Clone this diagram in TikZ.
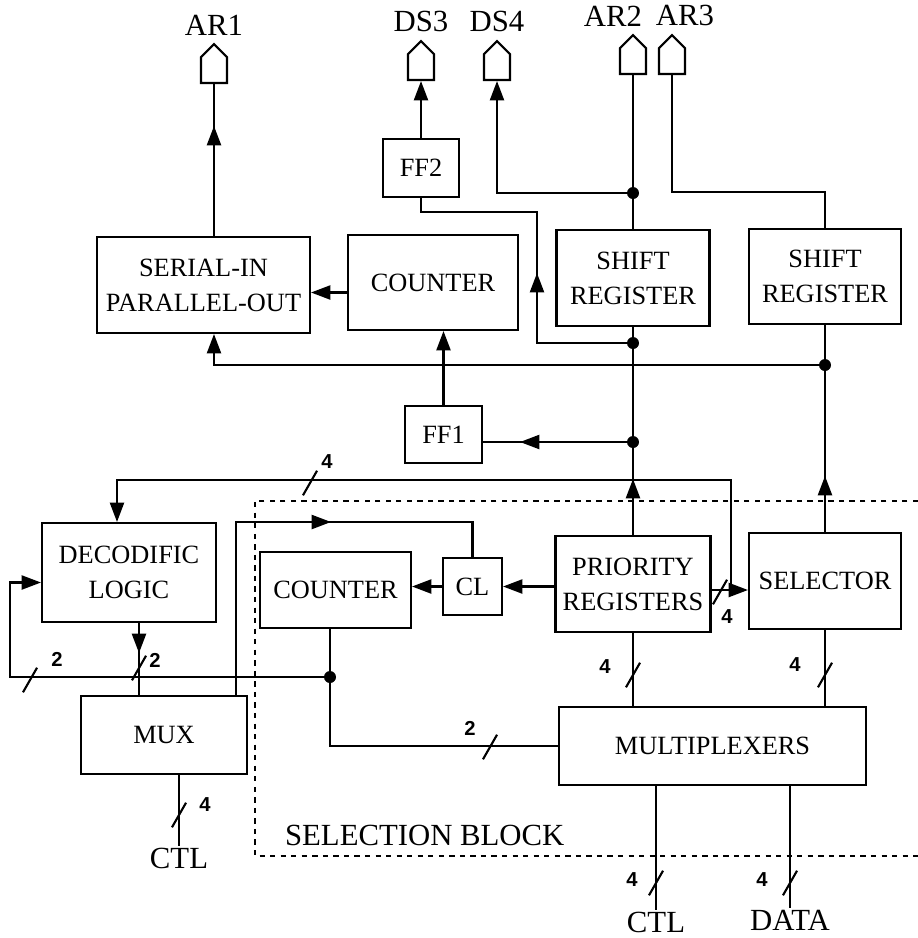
\documentclass[tikz,border=0pt]{standalone}
\usepackage{fontspec}
\setmainfont{Liberation Serif}
\newfontfamily\busfont{Liberation Sans}
\usepackage{tikz}
\usetikzlibrary{arrows.meta,calc,positioning,shapes.arrows,decorations.markings}
\tikzset{
  block/.style={draw, line width=1.2pt, fill=white, align=center, inner sep=2pt, font=\fontsize{15}{20}\selectfont},
  pinout/.style={draw, line width=1.2pt, fill=white, single arrow, single arrow head extend=0pt, single arrow tip angle=90, shape border rotate=90, minimum width=0.52cm, minimum height=0.78cm, inner sep=0pt},
  sig/.style={inner sep=1pt, font=\fontsize{17.5}{20}\selectfont},
  buswidth/.style={inner sep=0pt, font=\busfont\bfseries\fontsize{11.5}{14}\selectfont},
  dot/.style={circle, fill, inner sep=0pt, minimum size=0.24cm},
  wire/.style={line width=1.2pt},
  flow/.style={wire, -{Triangle[length=11pt,width=8pt]}},
  arrowat/.style={wire, postaction={decorate}, decoration={markings, mark=at position #1 with {\arrow{Triangle[length=11pt,width=8pt]}}}},
  blockline/.style={line width=0.9pt, dash pattern=on 3pt off 3pt},
  busmark/.pic={\draw[wire] (-4pt,-7pt) -- (4pt,7pt);}
}

\begin{document}
\begin{tikzpicture}[x=0.02cm,y=-0.02cm]
  \useasboundingbox (0,0) rectangle (918,938);

  % upper blocks
  \node[block, minimum width=4.26cm, minimum height=1.92cm] (sipo) at (203.5,285) {SERIAL-IN\\PARALLEL-OUT};
  \node[block, minimum width=3.4cm, minimum height=1.9cm] (cnt1) at (433,282.5) {COUNTER};
  \node[block, minimum width=1.52cm, minimum height=1.16cm] (ff2) at (421,168) {FF2};
  \node[block, minimum width=3.06cm, minimum height=1.92cm] (sr1) at (633,278) {SHIFT\\REGISTER};
  \node[block, minimum width=3.04cm, minimum height=1.9cm] (sr2) at (825,276.5) {SHIFT\\REGISTER};
  \node[block, minimum width=1.54cm, minimum height=1.14cm] (ff1) at (443.5,434.5) {FF1};

  % lower blocks
  \node[block, minimum width=3.48cm, minimum height=1.98cm] (dec) at (129,572.5) {DECODIFIC\\LOGIC};
  \node[block, minimum width=3.02cm, minimum height=1.52cm] (cnt2) at (335.5,590) {COUNTER};
  \node[block, minimum width=1.18cm, minimum height=1.14cm] (cl) at (472.5,586.5) {CL};
  \node[block, minimum width=3.1cm, minimum height=1.92cm] (prio) at (633,584) {PRIORITY\\REGISTERS};
  \node[block, minimum width=3.04cm, minimum height=1.92cm] (sel) at (825,581) {SELECTOR};
  \node[block, minimum width=3.32cm, minimum height=1.56cm] (mux) at (164,735) {MUX};
  \node[block, minimum width=6.14cm, minimum height=1.56cm] (mplx) at (712.5,746) {MULTIPLEXERS};

  % outputs
  \node[pinout] (ar1) at (214,70) {};
  \node[pinout] (ds3) at (421,67) {};
  \node[pinout] (ds4) at (497,67) {};
  \node[pinout] (ar2) at (633,61) {};
  \node[pinout] (ar3) at (672,61) {};
  \node[sig, above=3pt of ar1.tip] (ar1t) {AR1};
  \node[sig, above=3pt of ds3.tip] (ds3t) {DS3};
  \node[sig, above=3pt of ds4.tip] (ds4t) {DS4};
  \node[sig, above=3pt of ar2.tip, xshift=-0.4cm] (ar2t) {AR2};
  \node[sig, above=3pt of ar3.tip, xshift=0.26cm] (ar3t) {AR3};

  % inputs
  \node[sig] (ctl1) at (179,858) {CTL};
  \node[sig] (ctl2) at (656,922) {CTL};
  \node[sig] (data) at (790,920) {DATA};

  % junctions
  \node[dot] (jd) at (633,193) {};
  \node[dot] (j1) at (633,343) {};
  \node[dot] (j2) at (633,442) {};
  \node[dot] (j3) at (825,365) {};
  \node[dot] (j4) at (330,677) {};
  \coordinate (k1) at (537,212);
  \coordinate (k2) at (672,192);
  \coordinate (bt) at (731,590);
  \coordinate (bb) at (731,480);
  \coordinate (k5) at (236,522);
  \coordinate (lft) at (10,677);
  \coordinate (dm) at (139,650);

  % selection block
  \draw[blockline] (918,501) -| (255,856) -- (918,856);
  \node[sig, anchor=west] (seltxt) at (283,835) {SELECTION BLOCK};

  % upper wiring
  \draw[arrowat=2.2cm] (sipo.north -| ar1.tail) -- (ar1.tail);
  \draw[flow] (ff2.north) -- (ds3.tail);
  \draw[arrowat=3.32cm] (j1.center) -| (k1) -| (ff2.south);
  \draw[flow] (jd.center) -| (ds4.tail);
  \draw[wire] (sr1.north) -- (ar2.tail);
  \draw[wire] (sr2.north) |- (k2) -- (ar3.tail);
  \draw[flow] ([yshift=-0.2cm]cnt1.west) -- ([yshift=-0.2cm]cnt1.west -| sipo.east);
  \draw[arrowat=1.12cm] (prio.north) -- (sr1.south);
  \draw[arrowat=2.26cm] (j2.center) -- (j2 -| ff1.east);
  \draw[flow] (ff1.north) -- (ff1.north |- cnt1.south);
  \draw[flow] (j3.center) -| (ar1.tail |- sipo.south);
  \draw[arrowat=1.12cm] (sel.north) -- (sr2.south);

  % lower wiring
  \draw[flow] (bt -| prio.east) -- (bt -| sel.west);
  \draw[flow] (bt) -- (bb) -| ([xshift=-0.24cm]dec.north);
  \draw[arrowat=5.36cm] (mux.north -| k5) -- (k5) -| (cl.north);
  \draw[flow] (cl.east -| prio.west) -- (cl.east);
  \draw[flow] (cl.west) -- (cl.west -| cnt2.east);
  \draw[wire] (cnt2.south -| j4) -- (j4.center) |- (mplx.west);
  \draw[flow] (j4.center) -- (lft) |- ([yshift=-0.2cm]dec.west);
  \draw[arrowat=0.6cm] (dec.south -| dm) -- (mux.north -| dm);
  \draw[wire] (mux.south -| ctl1) -- (ctl1.north);
  \draw[wire] (prio.south) -- (prio.south |- mplx.north);
  \draw[wire] (sel.south) -- (sel.south |- mplx.north);
  \draw[wire] (mplx.south -| ctl2) -- (ctl2.north);
  \draw[wire] (mplx.south -| data) -- (data.north);

  % bus widths
  \pic at (310,483) {busmark};
  \node[buswidth] (w1) at (327,462) {4};
  \pic at (720,592) {busmark};
  \node[buswidth] (w2) at (727,617) {4};
  \pic at (30,680) {busmark};
  \node[buswidth] (w3) at (57,659) {2};
  \pic at (139,668) {busmark};
  \node[buswidth] (w4) at (155,660) {2};
  \pic at (490,747) {busmark};
  \node[buswidth] (w5) at (470,728) {2};
  \pic at (179,815) {busmark};
  \node[buswidth] (w6) at (205,805) {4};
  \pic at (633,675) {busmark};
  \node[buswidth] (w7) at (605,667) {4};
  \pic at (825,675) {busmark};
  \node[buswidth] (w8) at (795,665) {4};
  \pic at (656,883) {busmark};
  \node[buswidth] (w9) at (632,880) {4};
  \pic at (790,883) {busmark};
  \node[buswidth] (w10) at (762,880) {4};
\end{tikzpicture}
\end{document}
